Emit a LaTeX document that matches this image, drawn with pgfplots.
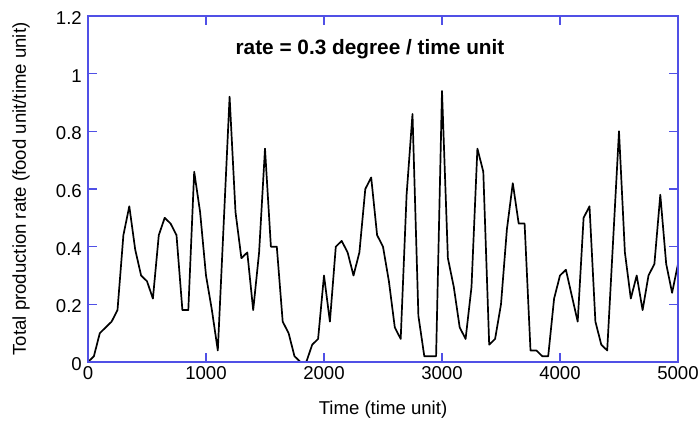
\documentclass[border=0pt]{standalone}
\usepackage{pgfplots}
\pgfplotsset{compat=1.18}
\usepackage{fontspec}
\setmainfont{Liberation Sans}
\definecolor{axisblue}{RGB}{80,80,230}

\pgfplotstableread{
t y
0 0
50 0.02
100 0.10
150 0.12
200 0.14
250 0.18
300 0.44
350 0.54
400 0.39
450 0.30
500 0.28
550 0.22
600 0.44
650 0.50
700 0.48
750 0.44
800 0.18
850 0.18
900 0.66
950 0.52
1000 0.30
1050 0.18
1100 0.04
1150 0.48
1200 0.92
1250 0.52
1300 0.36
1350 0.38
1400 0.18
1450 0.38
1500 0.74
1550 0.40
1600 0.40
1650 0.14
1700 0.10
1750 0.02
1800 0
1850 0
1900 0.06
1950 0.08
2000 0.30
2050 0.14
2100 0.40
2150 0.42
2200 0.38
2250 0.30
2300 0.38
2350 0.60
2400 0.64
2450 0.44
2500 0.40
2550 0.28
2600 0.12
2650 0.08
2700 0.58
2750 0.86
2800 0.16
2850 0.02
2900 0.02
2950 0.02
3000 0.94
3050 0.36
3100 0.26
3150 0.12
3200 0.08
3250 0.26
3300 0.74
3350 0.66
3400 0.06
3450 0.08
3500 0.20
3550 0.46
3600 0.62
3650 0.48
3700 0.48
3750 0.04
3800 0.04
3850 0.02
3900 0.02
3950 0.22
4000 0.30
4050 0.32
4100 0.23
4150 0.14
4200 0.50
4250 0.54
4300 0.14
4350 0.06
4400 0.04
4450 0.42
4500 0.80
4550 0.38
4600 0.22
4650 0.30
4700 0.18
4750 0.30
4800 0.34
4850 0.58
4900 0.34
4950 0.24
5000 0.34
}\rate

\begin{document}
\begin{tikzpicture}
\path[use as bounding box] (-88pt,-60pt) rectangle (611pt,362pt);
\begin{axis}[
    scale only axis,
    width=590pt, height=346pt,
    xmin=0, xmax=5000, ymin=0, ymax=1.2,
    xtick={0,1000,...,5000},
    ytick={0,0.2,...,1.2},
    yticklabels={0,0.2,0.4,0.6,0.8,1,1.2},
    scaled x ticks=false,
    axis line style={axisblue, line width=1.3pt},
    tick style={axisblue, line width=1.3pt},
    major tick length=9pt,
    tick align=inside,
    axis on top,
    font=\fontsize{18.6}{22}\selectfont,
    /pgf/number format/assume math mode=true,
    /pgf/number format/set thousands separator={},
    xticklabel style={inner sep=1pt, yshift=-3pt},
    yticklabel style={inner sep=1pt, xshift=-5pt, yshift=-2pt},
    xlabel={Time (time unit)},
    ylabel={Total production rate (food unit/time unit)},
    every axis x label/.style={at={(axis description cs:0.5,-0.139)}, anchor=center},
    every axis y label/.style={at={(axis description cs:-0.1136,0.5)}, anchor=center, rotate=90},
]
\addplot[black, line width=1.7pt, line join=round] table[x=t, y=y] {\rate};
\node[font=\fontsize{20.8}{24}\selectfont\bfseries] at (axis description cs:0.478,0.905) {rate = 0.3 degree / time unit};
\end{axis}
\end{tikzpicture}
\end{document}
